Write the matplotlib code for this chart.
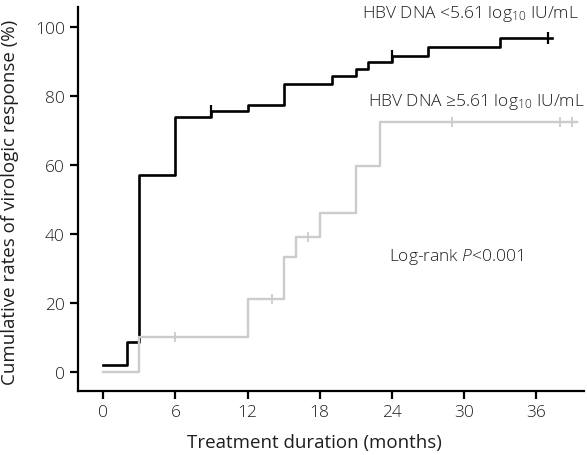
import numpy as np
import matplotlib
matplotlib.use("Agg")
import matplotlib.pyplot as plt

plt.rcParams['font.family'] = ['Open Sans', 'DejaVu Sans']
plt.rcParams['font.weight'] = 'light'
plt.rcParams['mathtext.fontset'] = 'custom'
plt.rcParams['mathtext.rm'] = 'Open Sans:light'
plt.rcParams['mathtext.it'] = 'Open Sans:italic:light'

# group HBV DNA < 5.61
low_t = [0, 2, 3, 6, 9, 12, 15, 19, 21, 22, 24, 27, 33, 37.3]
low_y = [2.0, 8.6, 57.0, 73.9, 75.6, 77.4, 83.6, 85.8, 87.8, 89.9, 91.7, 94.3, 97.0, 97.0]
low_cens = [9, 24, 37]

# group HBV DNA >= 5.61
high_t = [0, 3, 12, 15, 16, 18, 21, 23, 39.4]
high_y = [0.0, 10.0, 21.1, 33.2, 39.0, 46.0, 59.7, 72.5, 72.5]
high_cens = [6, 14, 17, 29, 38, 39]

xticks = [0, 6, 12, 18, 24, 30, 36]
yticks = [0, 20, 40, 60, 80, 100]

txt = '#1e1e1e'
W, H = 587, 456

def at(t, y, c):
    i = np.searchsorted(t, c, side='right') - 1
    return np.array(y)[i]

fig = plt.figure(figsize=(W / 100, H / 100), dpi=100)
ax = fig.add_axes([0.133, 0.140, 0.862, 0.842])

ax.step(low_t, low_y, where='post', color='black', lw=1.9)
ax.plot(low_cens, at(low_t, low_y, low_cens), ls='none', marker='|',
        ms=8, mew=1.6, color='black')
ax.step(high_t, high_y, where='post', color='#cccccc', lw=1.7)
ax.plot(high_cens, at(high_t, high_y, high_cens), ls='none', marker='|',
        ms=7, mew=1.3, color='#cccccc')

ax.set_xlim(-2.1, 40)
ax.set_ylim(-5.6, 105.8)
ax.set_xticks(xticks)
ax.set_yticks(yticks)
for s in ['top', 'right']:
    ax.spines[s].set_visible(False)
for s in ['left', 'bottom']:
    ax.spines[s].set_linewidth(1.6)
ax.tick_params(direction='out', length=6, width=1.6, labelsize=12.5, labelcolor=txt)

ax.set_xlabel('Treatment duration (months)', fontsize=13.5, color=txt)
ax.set_ylabel('Cumulative rates of virologic response (%)', fontsize=13.5, color=txt)
ax.xaxis.set_label_coords(0.468, -0.11)
ax.yaxis.set_label_coords(-0.117, 0.495)

def ftext(x, y, s, **kw):
    fig.text(x / W, 1 - y / H, s, fontsize=12.5, color=txt, va='center', **kw)

ftext(579, 14, r'HBV DNA <5.61 log$_{10}$ IU/mL', ha='right')
ftext(585, 102, r'HBV DNA ≥5.61 log$_{10}$ IU/mL', ha='right')
ftext(389, 257, r'Log-rank $P$<0.001', ha='left')

fig.savefig('out.png', dpi=100)
